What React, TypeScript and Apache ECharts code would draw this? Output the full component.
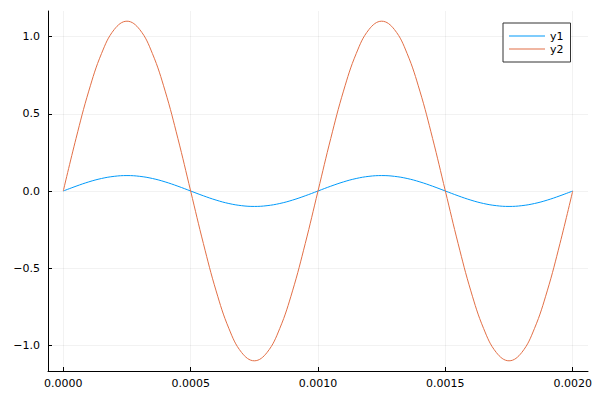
import React, { useEffect, useRef } from "react";
import * as echarts from "echarts";

const times = [
  0, 0.00005, 0.0001, 0.00015, 0.0002, 0.00025, 0.0003, 0.00035, 0.0004, 0.00045,
  0.0005, 0.00055, 0.0006, 0.00065, 0.0007, 0.00075, 0.0008, 0.00085, 0.0009, 0.00095,
  0.001, 0.00105, 0.0011, 0.00115, 0.0012, 0.00125, 0.0013, 0.00135, 0.0014, 0.00145,
  0.0015, 0.00155, 0.0016, 0.00165, 0.0017, 0.00175, 0.0018, 0.00185, 0.0019, 0.00195,
  0.002,
];

const y1 = [
  0, 0.031, 0.059, 0.081, 0.095, 0.1, 0.095, 0.081, 0.059, 0.031,
  0, -0.031, -0.059, -0.081, -0.095, -0.1, -0.095, -0.081, -0.059, -0.031,
  0, 0.031, 0.059, 0.081, 0.095, 0.1, 0.095, 0.081, 0.059, 0.031,
  0, -0.031, -0.059, -0.081, -0.095, -0.1, -0.095, -0.081, -0.059, -0.031,
  0,
];

const y2 = [
  0, 0.34, 0.647, 0.89, 1.046, 1.1, 1.046, 0.89, 0.647, 0.34,
  0, -0.34, -0.647, -0.89, -1.046, -1.1, -1.046, -0.89, -0.647, -0.34,
  0, 0.34, 0.647, 0.89, 1.046, 1.1, 1.046, 0.89, 0.647, 0.34,
  0, -0.34, -0.647, -0.89, -1.046, -1.1, -1.046, -0.89, -0.647, -0.34,
  0,
];

const xTicks = [0, 0.0005, 0.001, 0.0015, 0.002];
const yTicks = [-1, -0.5, 0, 0.5, 1];
const seriesNames = ["y1", "y2"];
const colors = ["#009AFA", "#E26F46"];

const FONT = "DejaVu Sans";

export default function App() {
  const ref = useRef<HTMLDivElement>(null);
  useEffect(() => {
    if (!ref.current) return;
    const chart = echarts.init(ref.current, undefined, { renderer: "svg" });
    const gridLine = { show: true, lineStyle: { color: "rgba(0,0,0,0.1)", width: 0.5 } };
    chart.setOption({
      animation: false,
      backgroundColor: "#ffffff",
      grid: { left: 48, top: 11, width: 540, height: 360, containLabel: false },
      legend: {
        orient: "vertical",
        left: 503,
        top: 23,
        padding: [7, 7, 7, 6],
        itemGap: 1,
        itemWidth: 36,
        itemHeight: 1,
        borderColor: "#333333",
        borderWidth: 1,
        backgroundColor: "#ffffff",
        textStyle: { fontFamily: FONT, fontSize: 11, lineHeight: 12, color: "#000" },
        data: seriesNames.map((n, i) => ({
          name: n,
          icon: "rect",
          itemStyle: { color: colors[i] },
        })),
      },
      xAxis: {
        type: "value",
        min: -0.00006,
        max: 0.00206,
        axisLine: { show: true, onZero: false, lineStyle: { color: "#000", width: 1 } },
        axisTick: { show: true, inside: true, length: 4, customValues: xTicks, lineStyle: { color: "#000" } },
        axisLabel: {
          customValues: xTicks,
          margin: 7,
          fontFamily: FONT,
          fontSize: 11,
          color: "#000",
          formatter: (v: number) => v.toFixed(4),
        },
        splitLine: gridLine,
      },
      yAxis: {
        type: "value",
        min: -1.166,
        max: 1.166,
        axisLine: { show: true, onZero: false, lineStyle: { color: "#000", width: 1 } },
        axisTick: { show: true, inside: true, length: 4, customValues: yTicks, lineStyle: { color: "#000" } },
        axisLabel: {
          customValues: yTicks,
          margin: 8,
          fontFamily: FONT,
          fontSize: 11,
          color: "#000",
          formatter: (v: number) => (v < 0 ? "\u2212" + Math.abs(v).toFixed(1) : v.toFixed(1)),
        },
        splitLine: gridLine,
      },
      series: [y1, y2].map((ys, i) => ({
        name: seriesNames[i],
        type: "line",
        data: times.map((t, j) => [t, ys[j]]),
        symbol: "none",
        smooth: 0.4,
        color: colors[i],
        lineStyle: { color: colors[i], width: 1 },
        itemStyle: { color: colors[i] },
      })),
    });
    return () => chart.dispose();
  }, []);
  return <div ref={ref} style={{ width: 600, height: 400, position: "absolute", left: 0, top: 0 }} />;
}
